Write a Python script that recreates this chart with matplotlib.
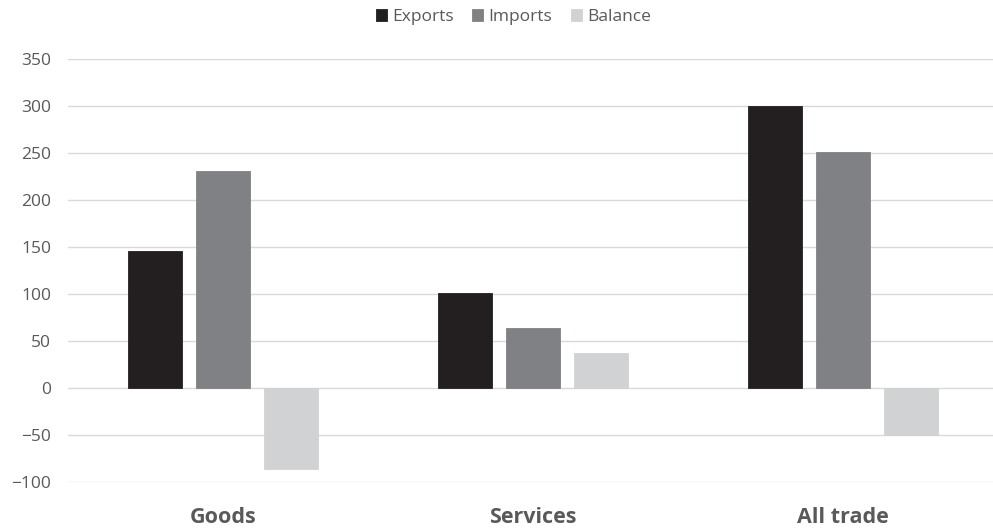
import matplotlib
matplotlib.use("Agg")
import matplotlib.pyplot as plt
import numpy as np

plt.rcParams['font.family'] = ['Open Sans', 'DejaVu Sans']

categories = ["Goods", "Services", "All trade"]
exports = [146, 101, 300]
imports = [231, 64, 251]
balance = [-86, 37, -50]
series_names = ["Exports", "Imports", "Balance"]
colors = ["#231f20", "#808184", "#d1d2d4"]
yticks = [-100, -50, 0, 50, 100, 150, 200, 250, 300, 350]

fig = plt.figure(figsize=(9.93, 5.31), dpi=100)
ax = fig.add_axes([68 / 993, (531 - 482) / 531, 930 / 993, (482 - 59.3) / 531])

x = np.arange(len(categories))
width = 0.174
offset = 0.219
for i, (vals, name, col) in enumerate(zip([exports, imports, balance], series_names, colors)):
    ax.bar(x + (i - 1) * offset, vals, width, color=col, label=name,
           edgecolor=col, linewidth=0.6, zorder=3)

ax.set_xlim(-0.5, 2.5)
ax.set_ylim(-100, 350)
ax.set_yticks(yticks)
ax.set_yticklabels([str(v).replace('-', '\u2212') for v in yticks])
ax.grid(axis='y', color='#d9d9d9', linewidth=1.0, zorder=0)
ax.set_axisbelow(True)
for s in ax.spines.values():
    s.set_visible(False)
ax.tick_params(axis='y', length=0, pad=12, labelsize=12.5, labelcolor='#595959')
ax.set_xticks(x)
ax.set_xticklabels(categories, fontsize=15.5, fontweight='bold', color='#595959')
ax.tick_params(axis='x', length=0, pad=18)

fig.legend(loc='upper center', bbox_to_anchor=(0.517, 1.012), ncol=3, frameon=False,
           fontsize=12.5, labelcolor='#595959', handlelength=0.65, handleheight=0.65,
           handletextpad=0.3, columnspacing=1.05)

fig.savefig("out.png", dpi=100, facecolor='white')
